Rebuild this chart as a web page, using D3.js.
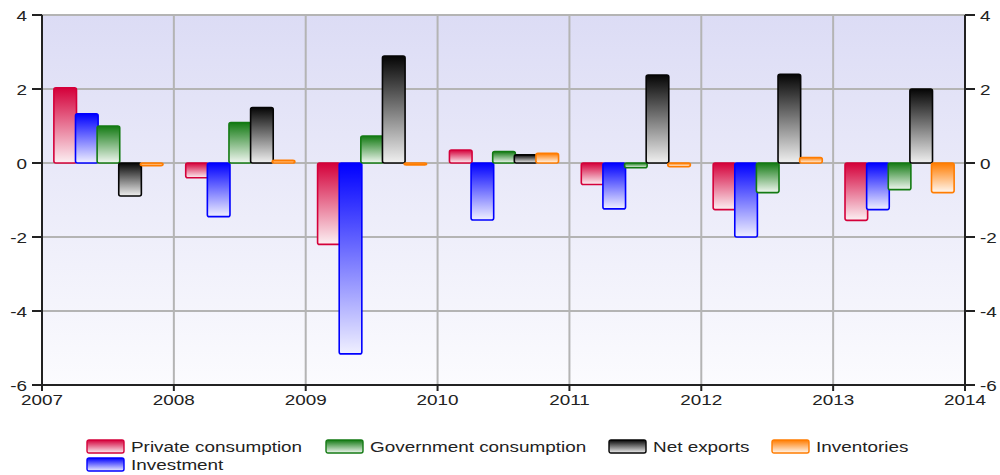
<!DOCTYPE html>
<html><head><meta charset="utf-8">
<script src="https://cdn.jsdelivr.net/npm/d3@7"></script>
<style>body{margin:0;background:#fff}svg{display:block}</style>
</head><body><svg id="c" width="1000" height="475"></svg>
<script>
const years = [2007, 2008, 2009, 2010, 2011, 2012, 2013];
const seriesNames = ["Private consumption", "Investment", "Government consumption", "Net exports", "Inventories"];
const privateConsumption = [2.03, -0.40, -2.20, 0.35, -0.58, -1.26, -1.55];
const investment = [1.33, -1.45, -5.16, -1.54, -1.24, -2.00, -1.26];
const governmentConsumption = [1.00, 1.09, 0.73, 0.31, -0.13, -0.80, -0.72];
const netExports = [-0.89, 1.50, 2.89, 0.22, 2.38, 2.40, 2.00];
const inventories = [-0.07, 0.07, -0.05, 0.26, -0.10, 0.15, -0.80];
const yTicks = [-6, -4, -2, 0, 2, 4];
const xTicks = [2007, 2008, 2009, 2010, 2011, 2012, 2013, 2014];
const legendRows = [["Private consumption", "Government consumption", "Net exports", "Inventories"], ["Investment"]];

const seriesValues = [privateConsumption, investment, governmentConsumption, netExports, inventories];
const colors = {
  "Private consumption": "#d4003a",
  "Investment": "#0000ff",
  "Government consumption": "#137a13",
  "Net exports": "#050505",
  "Inventories": "#ff7c00"
};

const svg = d3.select("#c");
const L = 42, R = 965, T = 15, B = 385;
const x = d3.scaleLinear().domain([2007, 2014]).range([L, R]);
const y = d3.scaleLinear().domain([-6, 4]).range([B, T]);
const yearW = x(2008) - x(2007);
const x1 = d3.scaleBand().domain(seriesNames).range([yearW * 0.09, yearW * 0.91]).padding(0);

const defs = svg.append("defs");
const bg = defs.append("linearGradient").attr("id", "bg").attr("x1", 0).attr("y1", 0).attr("x2", 0).attr("y2", 1);
bg.append("stop").attr("offset", 0).attr("stop-color", "#dcdcf5");
bg.append("stop").attr("offset", 1).attr("stop-color", "#fbfbfe");

const gid = n => "g" + seriesNames.indexOf(n);
seriesNames.forEach(n => {
  const g = defs.append("linearGradient").attr("id", gid(n)).attr("x1", 0).attr("y1", 0).attr("x2", 0).attr("y2", 1);
  g.append("stop").attr("offset", 0).attr("stop-color", colors[n]);
  g.append("stop").attr("offset", 1).attr("stop-color", d3.interpolateRgb(colors[n], "#fff")(0.94));
});

// plot background
svg.append("rect").attr("x", L).attr("y", T).attr("width", R - L).attr("height", B - T).attr("fill", "url(#bg)");

// grid
const grid = svg.append("g").attr("stroke", "#b4b4b4").attr("stroke-width", 2);
grid.selectAll("line.h").data(yTicks.filter(v => v > -6)).join("line")
  .attr("x1", L).attr("x2", R).attr("y1", d => y(d)).attr("y2", d => y(d));
grid.selectAll("line.v").data(xTicks.slice(1, -1)).join("line")
  .attr("x1", d => x(d)).attr("x2", d => x(d)).attr("y1", T).attr("y2", B);

// bars
const data = [];
years.forEach((yr, i) => seriesNames.forEach((n, s) => data.push({ yr, n, v: seriesValues[s][i] })));
svg.append("g").selectAll("rect").data(data).join("rect")
  .attr("x", d => x(d.yr) + x1(d.n))
  .attr("width", x1.bandwidth() + 1)
  .attr("y", d => y(Math.max(0, d.v)))
  .attr("height", d => Math.max(1.5, Math.abs(y(d.v) - y(0))))
  .attr("rx", 2)
  .attr("fill", d => `url(#${gid(d.n)})`)
  .attr("stroke", d => colors[d.n])
  .attr("stroke-width", 1.6);

// axes
const ax = svg.append("g").attr("stroke", "#222").attr("stroke-width", 2);
ax.append("line").attr("x1", L).attr("x2", L).attr("y1", T).attr("y2", B + 1);
ax.append("line").attr("x1", R).attr("x2", R).attr("y1", T).attr("y2", B + 1);
ax.append("line").attr("x1", L - 1).attr("x2", R + 1).attr("y1", B).attr("y2", B);
ax.selectAll("line.tl").data(yTicks).join("line").attr("x1", L - 10).attr("x2", L).attr("y1", d => y(d)).attr("y2", d => y(d));
ax.selectAll("line.tr").data(yTicks).join("line").attr("x1", R).attr("x2", R + 10).attr("y1", d => y(d)).attr("y2", d => y(d));
ax.selectAll("line.tb").data(xTicks).join("line").attr("x1", d => x(d)).attr("x2", d => x(d)).attr("y1", B).attr("y2", B + 6);

const sx = 1.26;
const txt = svg.append("g").attr("font-family", "Liberation Sans, Arial, sans-serif").attr("font-size", 15).attr("fill", "#222");
txt.selectAll("text.yl").data(yTicks).join("text")
  .attr("transform", d => `translate(${L - 15},${y(d) + 5.5}) scale(${sx},1)`)
  .attr("text-anchor", "end").text(d => d);
txt.selectAll("text.yr").data(yTicks).join("text")
  .attr("transform", d => `translate(${R + 15},${y(d) + 5.5}) scale(${sx},1)`)
  .attr("text-anchor", "start").text(d => d);
txt.selectAll("text.xb").data(xTicks).join("text")
  .attr("transform", d => `translate(${x(d)},${B + 20}) scale(${sx},1)`)
  .attr("text-anchor", "middle").text(d => d);

// legend
const legX = [87, 326, 609, 772];
const legY = [440, 458];
legendRows.forEach((row, r) => {
  row.forEach((n, k) => {
    const g = svg.append("g").attr("transform", `translate(${legX[k]},${legY[r]})`);
    g.append("rect").attr("width", 37).attr("height", 13).attr("rx", 2)
      .attr("fill", `url(#${gid(n)})`).attr("stroke", colors[n]).attr("stroke-width", 1.4);
    g.append("text").attr("transform", `translate(44,11.5) scale(${sx},1)`)
      .attr("font-family", "Liberation Sans, Arial, sans-serif").attr("font-size", 15).attr("fill", "#222").text(n);
  });
});
</script></body></html>
